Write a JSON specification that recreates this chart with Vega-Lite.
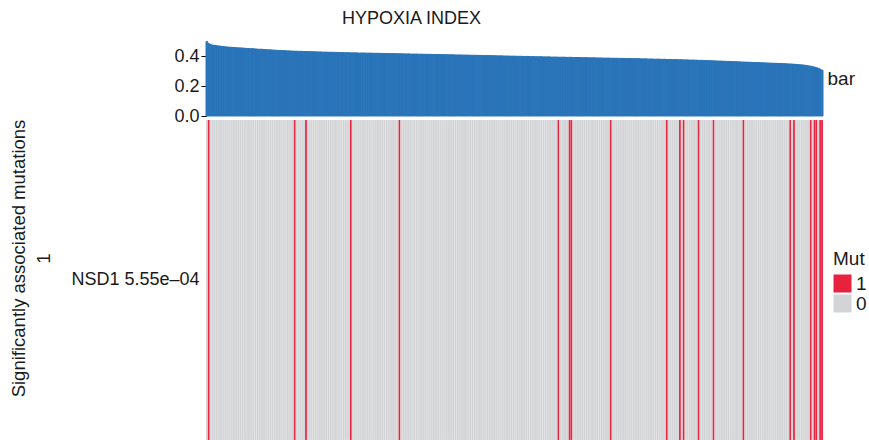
{
"$schema":"https://vega.github.io/schema/vega-lite/v6.json",
"padding":{"left":9,"top":10,"right":5,"bottom":0},
"bounds":"flush",
"config":{"font":"Liberation Sans","view":{"stroke":null},"axis":{"labelColor":"#1a1a1a","titleColor":"#1a1a1a","titleFontWeight":"normal"},"legend":{"labelColor":"#1a1a1a","titleColor":"#1a1a1a"}},
"data":{"values":[
{"s":0,"h":0.495,"m":0},{"s":1,"h":0.482,"m":1},{"s":2,"h":0.476,"m":0},{"s":3,"h":0.473,"m":0},{"s":4,"h":0.471,"m":0},{"s":5,"h":0.469,"m":0},{"s":6,"h":0.467,"m":0},{"s":7,"h":0.466,"m":0},{"s":8,"h":0.464,"m":0},{"s":9,"h":0.463,"m":0},
{"s":10,"h":0.461,"m":0},{"s":11,"h":0.460,"m":0},{"s":12,"h":0.459,"m":0},{"s":13,"h":0.458,"m":0},{"s":14,"h":0.457,"m":0},{"s":15,"h":0.456,"m":0},{"s":16,"h":0.455,"m":0},{"s":17,"h":0.454,"m":0},{"s":18,"h":0.454,"m":0},{"s":19,"h":0.453,"m":0},
{"s":20,"h":0.452,"m":0},{"s":21,"h":0.451,"m":0},{"s":22,"h":0.450,"m":0},{"s":23,"h":0.449,"m":0},{"s":24,"h":0.449,"m":0},{"s":25,"h":0.448,"m":0},{"s":26,"h":0.447,"m":0},{"s":27,"h":0.446,"m":0},{"s":28,"h":0.445,"m":0},{"s":29,"h":0.445,"m":0},
{"s":30,"h":0.444,"m":0},{"s":31,"h":0.443,"m":0},{"s":32,"h":0.442,"m":0},{"s":33,"h":0.441,"m":0},{"s":34,"h":0.441,"m":0},{"s":35,"h":0.440,"m":0},{"s":36,"h":0.439,"m":0},{"s":37,"h":0.438,"m":0},{"s":38,"h":0.437,"m":0},{"s":39,"h":0.437,"m":0},
{"s":40,"h":0.436,"m":0},{"s":41,"h":0.436,"m":0},{"s":42,"h":0.435,"m":0},{"s":43,"h":0.434,"m":0},{"s":44,"h":0.434,"m":0},{"s":45,"h":0.433,"m":0},{"s":46,"h":0.433,"m":0},{"s":47,"h":0.432,"m":1},{"s":48,"h":0.432,"m":0},{"s":49,"h":0.431,"m":0},
{"s":50,"h":0.431,"m":0},{"s":51,"h":0.431,"m":0},{"s":52,"h":0.430,"m":0},{"s":53,"h":0.430,"m":1},{"s":54,"h":0.429,"m":0},{"s":55,"h":0.429,"m":0},{"s":56,"h":0.429,"m":0},{"s":57,"h":0.428,"m":0},{"s":58,"h":0.428,"m":0},{"s":59,"h":0.427,"m":0},
{"s":60,"h":0.427,"m":0},{"s":61,"h":0.427,"m":0},{"s":62,"h":0.426,"m":0},{"s":63,"h":0.426,"m":0},{"s":64,"h":0.426,"m":0},{"s":65,"h":0.425,"m":0},{"s":66,"h":0.425,"m":0},{"s":67,"h":0.425,"m":0},{"s":68,"h":0.424,"m":0},{"s":69,"h":0.424,"m":0},
{"s":70,"h":0.424,"m":0},{"s":71,"h":0.423,"m":0},{"s":72,"h":0.423,"m":0},{"s":73,"h":0.423,"m":0},{"s":74,"h":0.422,"m":0},{"s":75,"h":0.422,"m":0},{"s":76,"h":0.422,"m":0},{"s":77,"h":0.421,"m":1},{"s":78,"h":0.421,"m":0},{"s":79,"h":0.421,"m":0},
{"s":80,"h":0.421,"m":0},{"s":81,"h":0.420,"m":0},{"s":82,"h":0.420,"m":0},{"s":83,"h":0.420,"m":0},{"s":84,"h":0.420,"m":0},{"s":85,"h":0.419,"m":0},{"s":86,"h":0.419,"m":0},{"s":87,"h":0.419,"m":0},{"s":88,"h":0.419,"m":0},{"s":89,"h":0.418,"m":0},
{"s":90,"h":0.418,"m":0},{"s":91,"h":0.418,"m":0},{"s":92,"h":0.418,"m":0},{"s":93,"h":0.417,"m":0},{"s":94,"h":0.417,"m":0},{"s":95,"h":0.417,"m":0},{"s":96,"h":0.417,"m":0},{"s":97,"h":0.416,"m":0},{"s":98,"h":0.416,"m":0},{"s":99,"h":0.416,"m":0},
{"s":100,"h":0.416,"m":0},{"s":101,"h":0.415,"m":0},{"s":102,"h":0.415,"m":0},{"s":103,"h":0.415,"m":1},{"s":104,"h":0.415,"m":0},{"s":105,"h":0.414,"m":0},{"s":106,"h":0.414,"m":0},{"s":107,"h":0.414,"m":0},{"s":108,"h":0.414,"m":0},{"s":109,"h":0.413,"m":0},
{"s":110,"h":0.413,"m":0},{"s":111,"h":0.413,"m":0},{"s":112,"h":0.413,"m":0},{"s":113,"h":0.412,"m":0},{"s":114,"h":0.412,"m":0},{"s":115,"h":0.412,"m":0},{"s":116,"h":0.412,"m":0},{"s":117,"h":0.411,"m":0},{"s":118,"h":0.411,"m":0},{"s":119,"h":0.411,"m":0},
{"s":120,"h":0.411,"m":0},{"s":121,"h":0.410,"m":0},{"s":122,"h":0.410,"m":0},{"s":123,"h":0.410,"m":0},{"s":124,"h":0.410,"m":0},{"s":125,"h":0.409,"m":0},{"s":126,"h":0.409,"m":0},{"s":127,"h":0.409,"m":0},{"s":128,"h":0.409,"m":0},{"s":129,"h":0.408,"m":0},
{"s":130,"h":0.408,"m":0},{"s":131,"h":0.408,"m":0},{"s":132,"h":0.408,"m":0},{"s":133,"h":0.407,"m":0},{"s":134,"h":0.407,"m":0},{"s":135,"h":0.407,"m":0},{"s":136,"h":0.407,"m":0},{"s":137,"h":0.406,"m":0},{"s":138,"h":0.406,"m":0},{"s":139,"h":0.406,"m":0},
{"s":140,"h":0.406,"m":0},{"s":141,"h":0.405,"m":0},{"s":142,"h":0.405,"m":0},{"s":143,"h":0.405,"m":0},{"s":144,"h":0.405,"m":0},{"s":145,"h":0.404,"m":0},{"s":146,"h":0.404,"m":0},{"s":147,"h":0.404,"m":0},{"s":148,"h":0.403,"m":0},{"s":149,"h":0.403,"m":0},
{"s":150,"h":0.403,"m":0},{"s":151,"h":0.403,"m":0},{"s":152,"h":0.402,"m":0},{"s":153,"h":0.402,"m":0},{"s":154,"h":0.402,"m":0},{"s":155,"h":0.401,"m":0},{"s":156,"h":0.401,"m":0},{"s":157,"h":0.401,"m":0},{"s":158,"h":0.401,"m":0},{"s":159,"h":0.400,"m":0},
{"s":160,"h":0.400,"m":0},{"s":161,"h":0.400,"m":0},{"s":162,"h":0.399,"m":0},{"s":163,"h":0.399,"m":0},{"s":164,"h":0.399,"m":0},{"s":165,"h":0.399,"m":0},{"s":166,"h":0.398,"m":0},{"s":167,"h":0.398,"m":0},{"s":168,"h":0.398,"m":0},{"s":169,"h":0.397,"m":0},
{"s":170,"h":0.397,"m":0},{"s":171,"h":0.397,"m":0},{"s":172,"h":0.397,"m":0},{"s":173,"h":0.396,"m":0},{"s":174,"h":0.396,"m":0},{"s":175,"h":0.396,"m":0},{"s":176,"h":0.395,"m":0},{"s":177,"h":0.395,"m":0},{"s":178,"h":0.395,"m":0},{"s":179,"h":0.395,"m":0},
{"s":180,"h":0.394,"m":0},{"s":181,"h":0.394,"m":0},{"s":182,"h":0.394,"m":0},{"s":183,"h":0.394,"m":0},{"s":184,"h":0.393,"m":0},{"s":185,"h":0.393,"m":0},{"s":186,"h":0.393,"m":0},{"s":187,"h":0.393,"m":0},{"s":188,"h":0.392,"m":1},{"s":189,"h":0.392,"m":0},
{"s":190,"h":0.392,"m":0},{"s":191,"h":0.392,"m":0},{"s":192,"h":0.391,"m":0},{"s":193,"h":0.391,"m":0},{"s":194,"h":0.391,"m":1},{"s":195,"h":0.391,"m":1},{"s":196,"h":0.390,"m":0},{"s":197,"h":0.390,"m":0},{"s":198,"h":0.390,"m":0},{"s":199,"h":0.390,"m":0},
{"s":200,"h":0.389,"m":0},{"s":201,"h":0.389,"m":0},{"s":202,"h":0.389,"m":0},{"s":203,"h":0.389,"m":0},{"s":204,"h":0.388,"m":0},{"s":205,"h":0.388,"m":0},{"s":206,"h":0.388,"m":0},{"s":207,"h":0.388,"m":0},{"s":208,"h":0.387,"m":0},{"s":209,"h":0.387,"m":0},
{"s":210,"h":0.387,"m":0},{"s":211,"h":0.387,"m":0},{"s":212,"h":0.386,"m":0},{"s":213,"h":0.386,"m":0},{"s":214,"h":0.386,"m":0},{"s":215,"h":0.386,"m":0},{"s":216,"h":0.385,"m":1},{"s":217,"h":0.385,"m":0},{"s":218,"h":0.385,"m":0},{"s":219,"h":0.385,"m":0},
{"s":220,"h":0.384,"m":0},{"s":221,"h":0.384,"m":0},{"s":222,"h":0.384,"m":0},{"s":223,"h":0.384,"m":0},{"s":224,"h":0.383,"m":0},{"s":225,"h":0.383,"m":0},{"s":226,"h":0.383,"m":0},{"s":227,"h":0.383,"m":0},{"s":228,"h":0.382,"m":0},{"s":229,"h":0.382,"m":0},
{"s":230,"h":0.382,"m":0},{"s":231,"h":0.382,"m":0},{"s":232,"h":0.381,"m":0},{"s":233,"h":0.381,"m":0},{"s":234,"h":0.381,"m":0},{"s":235,"h":0.381,"m":0},{"s":236,"h":0.380,"m":0},{"s":237,"h":0.380,"m":0},{"s":238,"h":0.380,"m":0},{"s":239,"h":0.379,"m":0},
{"s":240,"h":0.379,"m":0},{"s":241,"h":0.379,"m":0},{"s":242,"h":0.379,"m":0},{"s":243,"h":0.378,"m":0},{"s":244,"h":0.378,"m":0},{"s":245,"h":0.378,"m":0},{"s":246,"h":0.377,"m":1},{"s":247,"h":0.377,"m":0},{"s":248,"h":0.377,"m":0},{"s":249,"h":0.376,"m":0},
{"s":250,"h":0.376,"m":0},{"s":251,"h":0.376,"m":0},{"s":252,"h":0.375,"m":0},{"s":253,"h":0.375,"m":1},{"s":254,"h":0.375,"m":0},{"s":255,"h":0.374,"m":1},{"s":256,"h":0.374,"m":0},{"s":257,"h":0.374,"m":0},{"s":258,"h":0.373,"m":0},{"s":259,"h":0.373,"m":0},
{"s":260,"h":0.373,"m":0},{"s":261,"h":0.372,"m":0},{"s":262,"h":0.372,"m":0},{"s":263,"h":0.371,"m":1},{"s":264,"h":0.371,"m":0},{"s":265,"h":0.371,"m":0},{"s":266,"h":0.370,"m":0},{"s":267,"h":0.370,"m":0},{"s":268,"h":0.369,"m":0},{"s":269,"h":0.369,"m":0},
{"s":270,"h":0.368,"m":0},{"s":271,"h":0.368,"m":1},{"s":272,"h":0.367,"m":0},{"s":273,"h":0.367,"m":0},{"s":274,"h":0.366,"m":0},{"s":275,"h":0.366,"m":0},{"s":276,"h":0.365,"m":0},{"s":277,"h":0.365,"m":0},{"s":278,"h":0.364,"m":0},{"s":279,"h":0.364,"m":0},
{"s":280,"h":0.363,"m":0},{"s":281,"h":0.363,"m":0},{"s":282,"h":0.362,"m":0},{"s":283,"h":0.362,"m":0},{"s":284,"h":0.361,"m":0},{"s":285,"h":0.361,"m":0},{"s":286,"h":0.360,"m":0},{"s":287,"h":0.360,"m":1},{"s":288,"h":0.359,"m":0},{"s":289,"h":0.359,"m":0},
{"s":290,"h":0.358,"m":0},{"s":291,"h":0.358,"m":0},{"s":292,"h":0.357,"m":0},{"s":293,"h":0.357,"m":0},{"s":294,"h":0.356,"m":0},{"s":295,"h":0.356,"m":0},{"s":296,"h":0.355,"m":0},{"s":297,"h":0.355,"m":0},{"s":298,"h":0.354,"m":0},{"s":299,"h":0.354,"m":0},
{"s":300,"h":0.353,"m":0},{"s":301,"h":0.353,"m":0},{"s":302,"h":0.352,"m":0},{"s":303,"h":0.352,"m":0},{"s":304,"h":0.351,"m":0},{"s":305,"h":0.351,"m":0},{"s":306,"h":0.350,"m":0},{"s":307,"h":0.350,"m":0},{"s":308,"h":0.349,"m":0},{"s":309,"h":0.349,"m":0},
{"s":310,"h":0.348,"m":0},{"s":311,"h":0.347,"m":0},{"s":312,"h":0.347,"m":1},{"s":313,"h":0.346,"m":0},{"s":314,"h":0.345,"m":1},{"s":315,"h":0.344,"m":0},{"s":316,"h":0.343,"m":0},{"s":317,"h":0.342,"m":0},{"s":318,"h":0.341,"m":0},{"s":319,"h":0.340,"m":0},
{"s":320,"h":0.338,"m":0},{"s":321,"h":0.336,"m":0},{"s":322,"h":0.334,"m":0},{"s":323,"h":0.332,"m":1},{"s":324,"h":0.329,"m":0},{"s":325,"h":0.326,"m":1},{"s":326,"h":0.322,"m":1},{"s":327,"h":0.318,"m":0},{"s":328,"h":0.312,"m":1},{"s":329,"h":0.305,"m":1}
]},
"spacing":4,
"vconcat":[
{"width":617,"height":75,
 "title":{"text":"HYPOXIA INDEX","fontSize":18,"fontWeight":"normal","color":"#1a1a1a","dx":-103,"offset":13},
 "layer":[
  {"mark":{"type":"bar","color":"#2A74B9","stroke":"#2A74B9","strokeWidth":1},
   "encoding":{
    "x":{"field":"s","type":"ordinal","axis":null,"scale":{"paddingInner":0,"paddingOuter":0}},
    "y":{"field":"h","type":"quantitative","scale":{"domain":[0,0.5]},"axis":{"values":[0,0.2,0.4],"format":".1f","title":null,"grid":false,"labelFontSize":18,"tickSize":5,"domainColor":"#000","tickColor":"#000","labelPadding":2}}}},
  {"mark":{"type":"rule","opacity":0},
   "encoding":{"y":{"datum":0,"type":"quantitative","axis":{"orient":"right","title":"bar","titleAngle":0,"titleAlign":"left","titleBaseline":"middle","titleFontSize":19,"titlePadding":4,"labels":false,"ticks":false,"domain":false,"grid":false}}}}
 ],
 "resolve":{"axis":{"y":"independent"}}
},
{"width":617,"height":320,
 "mark":{"type":"rect","stroke":"#ffffff","strokeWidth":0.3,"strokeOpacity":0.25},
 "encoding":{
  "x":{"field":"s","type":"ordinal","axis":null,"scale":{"paddingInner":0,"paddingOuter":0}},
  "y":{"datum":"NSD1 5.55e–04","type":"nominal","axis":{"title":["Significantly associated mutations","1"],"titleFontSize":18.5,"titleLineHeight":25,"titleY":138,"ticks":false,"domain":false,"labelFontSize":18,"labelPadding":7,"titlePadding":17}},
  "color":{"field":"m","type":"nominal","scale":{"domain":[1,0],"range":["#E8213E","#D3D4D6"]},
   "legend":{"title":"Mut","titleFontSize":19,"titleFontWeight":"normal","labelFontSize":19,"symbolType":"square","symbolSize":324,"symbolStrokeWidth":0,"rowPadding":0,"orient":"none","legendX":627,"legendY":209}}}
}
]
}
